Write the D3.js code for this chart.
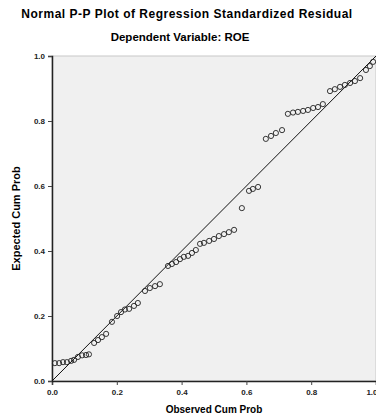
<!DOCTYPE html>
<html>
<head>
<meta charset="utf-8">
<script src="https://cdnjs.cloudflare.com/ajax/libs/d3/7.8.5/d3.min.js"></script>
<style>
  body { margin: 0; background: #fff; }
  svg { display: block; font-family: Arial, "Liberation Sans", sans-serif; }
</style>
</head>
<body>
<div id="chart"></div>
<script>
// observed / expected cumulative probabilities
const observed = [
  0.009, 0.022, 0.034, 0.046, 0.059, 0.068, 0.080, 0.093, 0.105, 0.114,
  0.130, 0.142, 0.154, 0.167,
  0.185, 0.201, 0.213, 0.225, 0.238, 0.253, 0.265,
  0.287, 0.302, 0.318, 0.333,
  0.358, 0.370, 0.383, 0.395, 0.407, 0.420, 0.432, 0.444,
  0.457, 0.469, 0.485, 0.500, 0.515, 0.531, 0.546, 0.562,
  0.586,
  0.608, 0.620, 0.636,
  0.660, 0.676, 0.691, 0.710,
  0.728, 0.744, 0.759, 0.775, 0.790, 0.806, 0.821, 0.836,
  0.858, 0.873, 0.889, 0.904, 0.920, 0.935, 0.951,
  0.969, 0.981, 0.991
];
const expected = [
  0.055, 0.055, 0.058, 0.058, 0.062, 0.065, 0.074, 0.079, 0.080, 0.082,
  0.117, 0.126, 0.135, 0.145,
  0.182, 0.200, 0.212, 0.220, 0.222, 0.231, 0.240,
  0.277, 0.286, 0.292, 0.298,
  0.354, 0.360, 0.366, 0.375, 0.382, 0.385, 0.394, 0.403,
  0.422, 0.425, 0.431, 0.437, 0.446, 0.452, 0.458, 0.465,
  0.532,
  0.585, 0.591, 0.597,
  0.745, 0.754, 0.763, 0.772,
  0.822, 0.826, 0.828, 0.831, 0.834, 0.840, 0.843, 0.852,
  0.892, 0.898, 0.905, 0.911, 0.917, 0.923, 0.932,
  0.957, 0.969, 0.982
];
const tickValues = [0, 0.2, 0.4, 0.6, 0.8, 1.0];

const width = 376;
const height = 420;
const margin = { top: 56, right: 0, bottom: 39, left: 52 };

const svg = d3.select('#chart')
  .append('svg')
  .attr('width', width)
  .attr('height', height);

const x = d3.scaleLinear().domain([0, 1]).range([margin.left, width - margin.right]);
const y = d3.scaleLinear().domain([0, 1]).range([height - margin.bottom, margin.top]);

// plot background
svg.append('rect')
  .attr('x', x(0))
  .attr('y', y(1))
  .attr('width', x(1) - x(0))
  .attr('height', y(0) - y(1))
  .attr('fill', '#f0f0f0')
  .attr('stroke', '#c8c8c8')
  .attr('stroke-width', 1);

// axes
const xAxis = svg.append('g')
  .attr('transform', `translate(0,${y(0)})`)
  .call(d3.axisBottom(x).tickValues(tickValues).tickSize(4).tickFormat(d3.format('.1f')));
const yAxis = svg.append('g')
  .attr('transform', `translate(${x(0)},0)`)
  .call(d3.axisLeft(y).tickValues(tickValues).tickSize(4).tickFormat(d3.format('.1f')));

[xAxis, yAxis].forEach(a => {
  a.select('.domain').attr('stroke', '#222').attr('stroke-width', 1.5);
  a.selectAll('.tick line').attr('stroke', '#444');
  a.selectAll('.tick text')
    .attr('font-size', 8)
    .attr('font-weight', 700)
    .attr('fill', '#222')
    .attr('font-family', 'Arial, "Liberation Sans", sans-serif');
});
xAxis.selectAll('.tick text').attr('dy', '0.9em');
// last label sits on the window edge: keep it inside
xAxis.selectAll('.tick text').filter(d => d === 1).attr('text-anchor', 'end').attr('dx', 1);

// reference diagonal
svg.append('line')
  .attr('x1', x(0)).attr('y1', y(0))
  .attr('x2', x(1)).attr('y2', y(1))
  .attr('stroke', '#111')
  .attr('stroke-width', 1);

// points
svg.append('g')
  .selectAll('circle')
  .data(observed.map((d, i) => [d, expected[i]]))
  .join('circle')
  .attr('cx', d => x(d[0]))
  .attr('cy', d => y(d[1]))
  .attr('r', 2.6)
  .attr('fill', 'none')
  .attr('stroke', '#222')
  .attr('stroke-width', 0.9);

// titles
svg.append('text')
  .attr('x', 187).attr('y', 18)
  .attr('text-anchor', 'middle')
  .attr('font-size', 12).attr('font-weight', 700)
  .attr('letter-spacing', 0.5)
  .text('Normal P-P Plot of Regression Standardized Residual');
svg.append('text')
  .attr('x', 180).attr('y', 41)
  .attr('text-anchor', 'middle')
  .attr('font-size', 11.5).attr('font-weight', 700)
  .text('Dependent Variable: ROE');

// axis labels
svg.append('text')
  .attr('x', (x(0) + x(1)) / 2).attr('y', 413)
  .attr('text-anchor', 'middle')
  .attr('font-size', 10).attr('font-weight', 700)
  .text('Observed Cum Prob');
svg.append('text')
  .attr('transform', `translate(20,${(y(0) + y(1)) / 2}) rotate(-90)`)
  .attr('text-anchor', 'middle')
  .attr('font-size', 11).attr('font-weight', 700)
  .text('Expected Cum Prob');
</script>
</body>
</html>
